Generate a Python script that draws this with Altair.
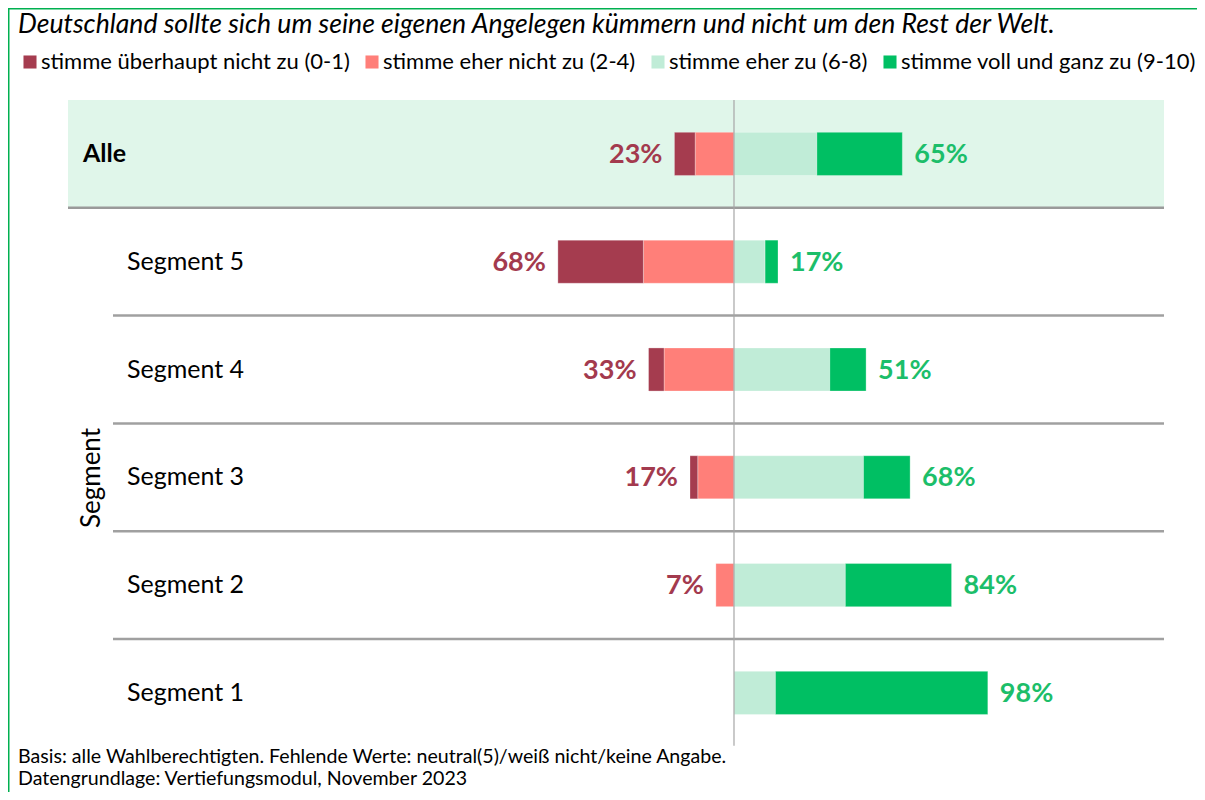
import altair as alt
import pandas as pd

# ---------------- data ----------------
categories = ["Alle", "Segment 5", "Segment 4", "Segment 3", "Segment 2", "Segment 1"]
dark_red = [8, 33, 6, 3, 0, 0]      # stimme überhaupt nicht zu (0-1)
light_red = [15, 35, 27, 14, 7, 0]  # stimme eher nicht zu (2-4)
light_green = [32, 12, 37, 50, 43, 16]  # stimme eher zu (6-8)
dark_green = [33, 5, 14, 18, 41, 82]    # stimme voll und ganz zu (9-10)
neg_labels = [23, 68, 33, 17, 7, 0]
pos_labels = [65, 17, 51, 68, 84, 98]

series_names = [
    "stimme überhaupt nicht zu (0-1)",
    "stimme eher nicht zu (2-4)",
    "stimme eher zu (6-8)",
    "stimme voll und ganz zu (9-10)",
]
series_colors = ["#A53C4F", "#FF7F79", "#C0ECD7", "#00BF63"]

title_text = "Deutschland sollte sich um seine eigenen Angelegen kümmern und nicht um den Rest der Welt."
foot_lines = [
    "Basis: alle Wahlberechtigten. Fehlende Werte: neutral(5)/weiß nicht/keine Angabe.",
    "Datengrundlage: Vertiefungsmodul, November 2023",
]

FONT = "Lato"
W, H = 1189, 784
PX_PER_PCT = 2.59
ZERO_X = 726
BAR_HALF = 0.2

# ---------------- tables ----------------
rows = []
for i, cat in enumerate(categories):
    lr, dr, lg, dg = light_red[i], dark_red[i], light_green[i], dark_green[i]
    segs = [
        (series_names[1], 0, -lr),
        (series_names[0], -lr, -(lr + dr)),
        (series_names[2], 0, lg),
        (series_names[3], lg, lg + dg),
    ]
    for name, a, b in segs:
        if a != b:
            rows.append(dict(cat=cat, row=i, ylo=i - BAR_HALF, yhi=i + BAR_HALF,
                             series=name, x0=a, x1=b))
bars_df = pd.DataFrame(rows)

lab_df = pd.DataFrame(dict(cat=categories, row=list(range(len(categories))),
                           neg=neg_labels, pos=pos_labels))
lab_df["negx"] = -lab_df["neg"]
lab_df["neg_txt"] = lab_df["neg"].astype(str) + "%"
lab_df["pos_txt"] = lab_df["pos"].astype(str) + "%"
lab_df["sep"] = lab_df["row"] + 0.5
lab_df["top"] = lab_df["row"] - 0.5

xscale = alt.Scale(domain=[-ZERO_X / PX_PER_PCT, (W - ZERO_X) / PX_PER_PCT], nice=False, zero=False)
yscale = alt.Scale(domain=[-0.5, 5.5], range=[92, 738.8], nice=False, zero=False)

base = alt.Chart(lab_df)

# Alle background band
band = base.transform_filter(alt.datum.row == 0).mark_rect(color="#E0F6EA").encode(
    x=alt.value(60), x2=alt.value(1156),
    y=alt.Y("top:Q", scale=yscale, axis=None), y2="sep:Q",
)

# separators
sep_alle = base.transform_filter(alt.datum.row == 0).mark_rule(color="#9A9A9A", strokeWidth=2.5).encode(
    x=alt.value(60), x2=alt.value(1156),
    y=alt.Y("sep:Q", scale=yscale, axis=None),
)
sep_rest = base.transform_filter((alt.datum.row >= 1) & (alt.datum.row <= 4)).mark_rule(
    color="#A0A0A0", strokeWidth=2.5).encode(
    x=alt.value(105), x2=alt.value(1156),
    y=alt.Y("sep:Q", scale=yscale, axis=None),
)

# bars
bars = alt.Chart(bars_df).mark_rect(stroke="#FFFFFF", strokeWidth=0.6, strokeOpacity=0.5).encode(
    x=alt.X("x0:Q", scale=xscale, axis=None), x2="x1:Q",
    y=alt.Y("ylo:Q", scale=yscale, axis=None), y2="yhi:Q",
    color=alt.Color("series:N",
                    scale=alt.Scale(domain=series_names, range=series_colors),
                    legend=alt.Legend(title=None, orient="none", legendX=11, legendY=43,
                                      direction="horizontal", symbolType="square",
                                      symbolSize=170, symbolStrokeWidth=0,
                                      labelFont=FONT, labelFontSize=22, labelColor="#000000",
                                      labelOffset=0, columnPadding=11, labelLimit=600)),
)

# center line
center = alt.Chart(pd.DataFrame(dict(x=[0], y1=[-0.5], y2=[5.49]))).mark_rule(
    color="#A6A6A6", strokeWidth=1.2).encode(
    x=alt.X("x:Q", scale=xscale, axis=None),
    y=alt.Y("y1:Q", scale=yscale, axis=None), y2="y2:Q",
)

# percent labels
neg_text = base.transform_filter(alt.datum.neg > 0).mark_text(
    align="right", baseline="middle", dx=-12, dy=1, font=FONT, fontWeight="bold",
    fontSize=27, color="#A33A4E").encode(
    x=alt.X("negx:Q", scale=xscale, axis=None),
    y=alt.Y("row:Q", scale=yscale, axis=None),
    text="neg_txt:N",
)
pos_text = base.mark_text(
    align="left", baseline="middle", dx=12, dy=1, font=FONT, fontWeight="bold",
    fontSize=27, color="#1CBE6A").encode(
    x=alt.X("pos:Q", scale=xscale, axis=None),
    y=alt.Y("row:Q", scale=yscale, axis=None),
    text="pos_txt:N",
)

# category labels
alle_label = base.transform_filter(alt.datum.row == 0).mark_text(
    align="left", baseline="middle", font=FONT, fontWeight="bold", fontSize=25,
    color="#000000").encode(
    x=alt.value(75), y=alt.Y("row:Q", scale=yscale, axis=None), text="cat:N",
)
seg_labels = base.transform_filter(alt.datum.row >= 1).mark_text(
    align="left", baseline="middle", font=FONT, fontSize=25, color="#000000").encode(
    x=alt.value(119), y=alt.Y("row:Q", scale=yscale, axis=None), text="cat:N",
)

# group label, title, footnote
misc_df = pd.DataFrame(dict(t=["Segment"]))
group_label = alt.Chart(misc_df).mark_text(
    angle=270, align="center", baseline="middle", font=FONT, fontSize=26,
    color="#000000").encode(x=alt.value(84), y=alt.value(470), text="t:N")

title = alt.Chart(pd.DataFrame(dict(t=[title_text]))).mark_text(
    align="left", baseline="alphabetic", font=FONT, fontStyle="italic", fontSize=26.6,
    color="#000000").encode(x=alt.value(10), y=alt.value(25), text="t:N")

foot1 = alt.Chart(pd.DataFrame(dict(t=[foot_lines[0]]))).mark_text(
    align="left", baseline="alphabetic", font=FONT, fontSize=19.6, color="#000000").encode(
    x=alt.value(10), y=alt.value(755), text="t:N")
foot2 = alt.Chart(pd.DataFrame(dict(t=[foot_lines[1]]))).mark_text(
    align="left", baseline="alphabetic", font=FONT, fontSize=19.6, color="#000000").encode(
    x=alt.value(10), y=alt.value(777), text="t:N")

# frame (top and left green border)
frame_top = alt.Chart(misc_df).mark_rule(color="#00B050", strokeWidth=1.5).encode(
    x=alt.value(0), x2=alt.value(W), y=alt.value(0.75))
frame_left = alt.Chart(misc_df).mark_rule(color="#00B050", strokeWidth=1.5).encode(
    x=alt.value(0.75), y=alt.value(0), y2=alt.value(H))

chart = alt.layer(
    band, sep_alle, sep_rest, bars, center, neg_text, pos_text,
    alle_label, seg_labels, group_label, title, foot1, foot2, frame_top, frame_left,
).properties(
    width=W, height=H, padding=0,
    autosize=alt.AutoSizeParams(type="none"),
).configure_view(stroke=None).configure(background="#FFFFFF")

chart.save("out.html", embed_options={"renderer": "svg", "actions": False})
